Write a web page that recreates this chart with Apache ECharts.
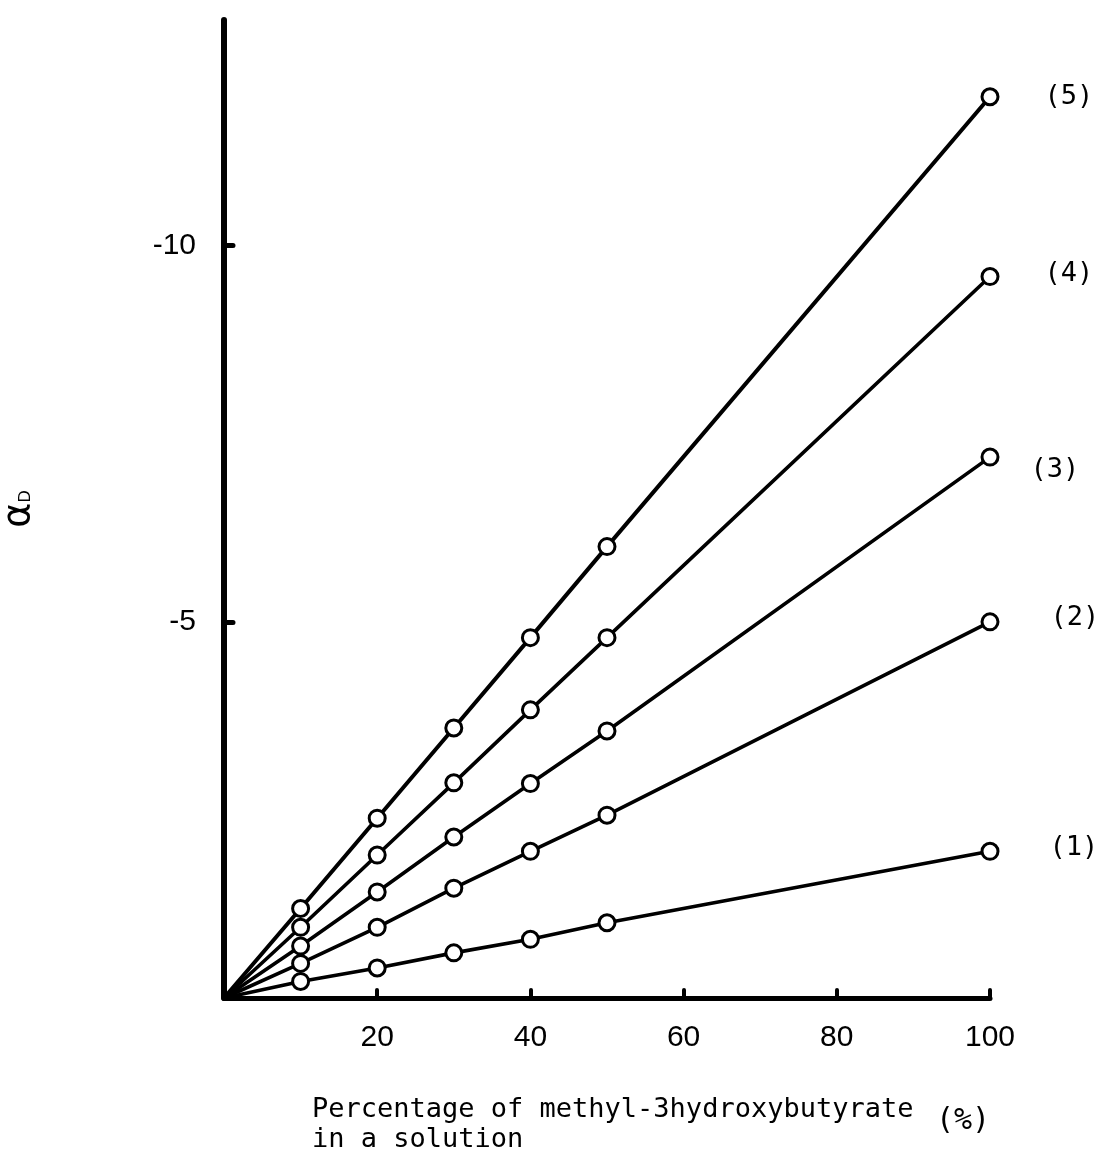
<!DOCTYPE html>
<html>
<head>
<meta charset="utf-8">
<title>Optical rotation vs. concentration</title>
<script src="https://cdn.jsdelivr.net/npm/echarts@6/dist/echarts.min.js"></script>
<style>
  html, body { margin: 0; padding: 0; background: #ffffff; }
  #chart { width: 1105px; height: 1168px; }
</style>
</head>
<body>
<div id="chart"></div>
<script>
// Percentage of methyl-3-hydroxybutyrate in the solution (%)
const percentages = [0, 10, 20, 30, 40, 50, 100];

// Observed rotation αD for each curve, one value per percentage
const curve1 = [0, -0.22, -0.40, -0.60, -0.78, -1.00, -1.95];
const curve2 = [0, -0.46, -0.94, -1.46, -1.95, -2.43, -5.00];
const curve3 = [0, -0.69, -1.41, -2.14, -2.85, -3.55, -7.19];
const curve4 = [0, -0.94, -1.90, -2.86, -3.83, -4.79, -9.59];
const curve5 = [0, -1.19, -2.39, -3.59, -4.79, -6.00, -11.98];

const curveNames = ['(1)', '(2)', '(3)', '(4)', '(5)'];

// Tick positions on each axis
const xTicks = [20, 40, 60, 80, 100];
const yTicks = [-10, -5];

const curves = [curve1, curve2, curve3, curve4, curve5];

// Placement of the curve tags next to the last point
const tagOffsets = [[50, -3], [51, -4], [31, 13], [45, -3], [45, 0]];

const labelFont = '"Liberation Sans", Arial, sans-serif';
const monoFont = '"DejaVu Sans Mono", "Liberation Mono", monospace';

const series = curves.map((vals, s) => ({
  type: 'line',
  name: curveNames[s],
  symbol: 'circle',
  symbolSize: 16,
  showAllSymbol: true,
  lineStyle: { color: '#000', width: s === 4 ? 4 : 3.6 },
  itemStyle: { color: '#fff', borderColor: '#000', borderWidth: 3 },
  emphasis: { disabled: true },
  z: 3,
  data: percentages.map((p, i) => {
    if (i === 0) return { value: [p, vals[i]], symbol: 'none' };
    if (i === percentages.length - 1) {
      return {
        value: [p, vals[i]],
        label: {
          show: true,
          position: 'right',
          distance: 0,
          offset: tagOffsets[s],
          formatter: curveNames[s],
          color: '#000',
          fontFamily: monoFont,
          fontSize: 27
        }
      };
    }
    return [p, vals[i]];
  })
}));

const chart = echarts.init(document.getElementById('chart'), null, { renderer: 'canvas' });

chart.setOption({
  backgroundColor: '#ffffff',
  animation: false,
  grid: { left: 224, right: 115, top: 20, bottom: 170, outerBoundsMode: 'none' },
  xAxis: {
    type: 'value',
    min: 0,
    max: 100,
    splitLine: { show: false },
    axisLine: { show: true, onZero: false, lineStyle: { color: '#000', width: 5, cap: 'round' } },
    axisTick: {
      show: true, inside: true, length: 8, customValues: xTicks,
      lineStyle: { color: '#000', width: 4, cap: 'round' }
    },
    axisLabel: {
      customValues: xTicks,
      margin: 25,
      color: '#000',
      fontFamily: labelFont,
      fontSize: 30
    }
  },
  yAxis: {
    type: 'value',
    min: -13,
    max: 0,
    inverse: true,
    splitLine: { show: false },
    axisLine: { show: true, onZero: false, lineStyle: { color: '#000', width: 6, cap: 'round' } },
    axisTick: {
      show: true, inside: true, length: 9, customValues: yTicks,
      lineStyle: { color: '#000', width: 5, cap: 'round' }
    },
    axisLabel: {
      customValues: yTicks,
      margin: 28,
      color: '#000',
      fontFamily: labelFont,
      fontSize: 30
    },
    name: '{a|α}{d|D}',
    nameLocation: 'middle',
    nameRotate: 90,
    nameGap: 186,
    nameTextStyle: {
      color: '#000',
      rich: {
        a: { fontSize: 38, fontFamily: '"DejaVu Sans", sans-serif', verticalAlign: 'bottom', color: '#000' },
        d: { fontSize: 17, fontFamily: labelFont, verticalAlign: 'bottom', color: '#000', padding: [0, 0, 4, 0] }
      }
    }
  },
  graphic: [
    {
      type: 'text',
      x: 312,
      y: 1095,
      style: {
        text: 'Percentage of methyl-3hydroxybutyrate\nin a solution',
        font: '27px ' + monoFont,
        lineHeight: 30,
        fill: '#000'
      }
    },
    {
      type: 'text',
      x: 936,
      y: 1106,
      style: {
        text: '(%)',
        font: '30px ' + monoFont,
        fill: '#000'
      }
    }
  ],
  series: series
});
</script>
</body>
</html>
